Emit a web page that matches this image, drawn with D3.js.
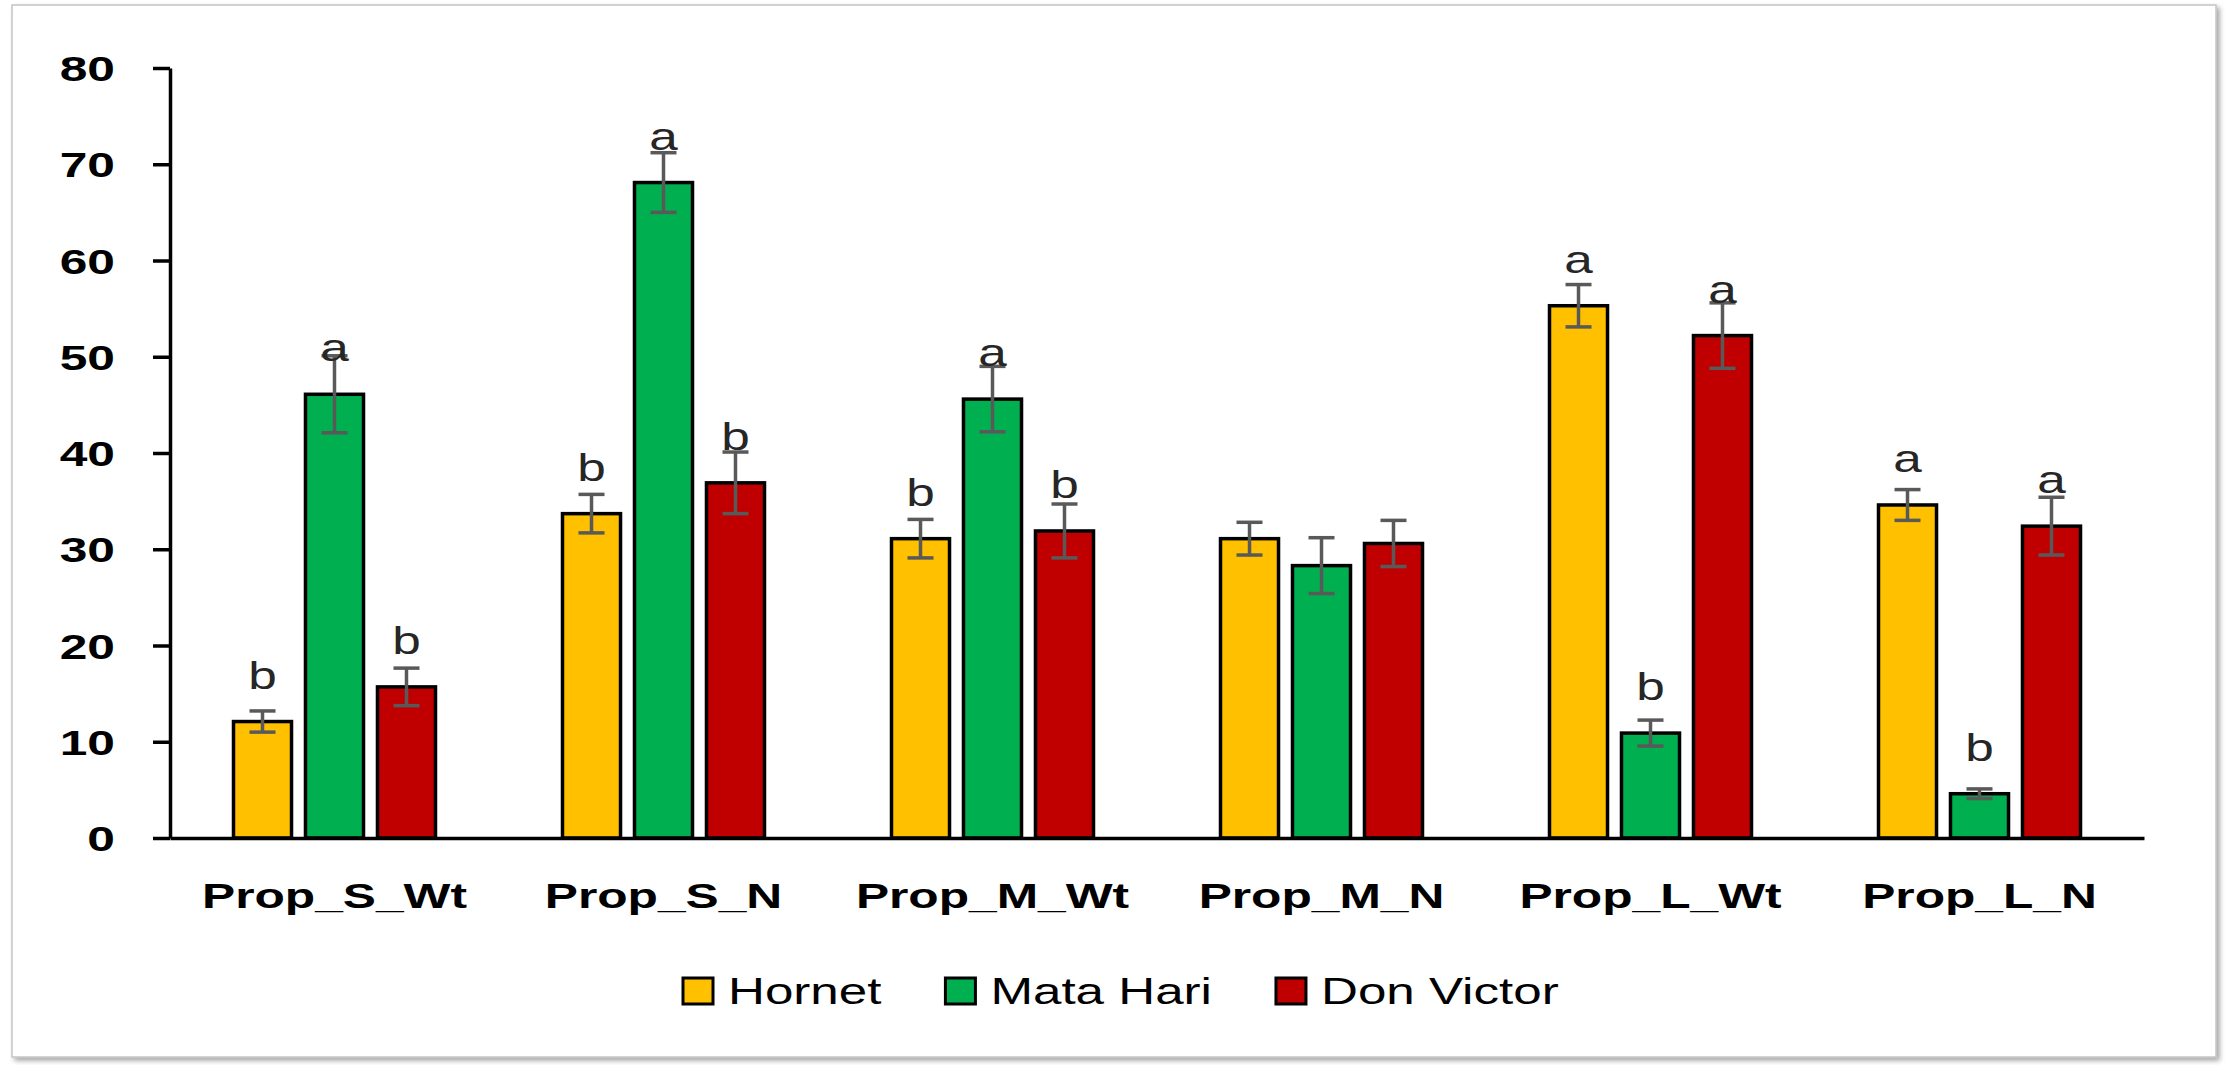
<!DOCTYPE html>
<html>
<head>
<meta charset="utf-8">
<script src="https://cdn.jsdelivr.net/npm/d3@7/dist/d3.min.js"></script>
<style>
	body { margin: 0; background: #fff; }
	text { font-family: 'Liberation Sans', Arial, sans-serif; }
</style>
</head>
<body>
<svg id="chart-svg" width="2226" height="1065"></svg>
<script>
// data
const CATEGORIES = ['Prop_S_Wt', 'Prop_S_N', 'Prop_M_Wt', 'Prop_M_N', 'Prop_L_Wt', 'Prop_L_N'];
const SERIES = ['Hornet', 'Mata Hari', 'Don Victor'];
const HORNET = [12.1, 33.7, 31.1, 31.1, 55.3, 34.6];
const HORNET_ERR = [1.1, 2.0, 2.0, 1.7, 2.2, 1.6];
const MATA_HARI = [46.1, 68.1, 45.6, 28.3, 10.9, 4.6];
const MATA_HARI_ERR = [4.0, 3.1, 3.4, 2.9, 1.35, 0.5];
const DON_VICTOR = [15.7, 36.9, 31.9, 30.6, 52.2, 32.4];
const DON_VICTOR_ERR = [1.95, 3.2, 2.8, 2.4, 3.4, 3.0];
const HORNET_LETTERS = ['b', 'b', 'b', '', 'a', 'a'];
const MATA_HARI_LETTERS = ['a', 'a', 'a', '', 'b', 'b'];
const DON_VICTOR_LETTERS = ['b', 'b', 'b', '', 'a', 'a'];
const Y_TICKS = [0, 10, 20, 30, 40, 50, 60, 70, 80];

const COLORS = ['#FFC000', '#00B050', '#C00000'];
const SX = 1.42; // the picture is stretched sideways, text too
const PLOT = { left: 170, right: 2144, top: 68, bottom: 838 };

const svg = d3.select('#chart-svg');

// rows for each bar
const values = [HORNET, MATA_HARI, DON_VICTOR];
const errs = [HORNET_ERR, MATA_HARI_ERR, DON_VICTOR_ERR];
const letters = [HORNET_LETTERS, MATA_HARI_LETTERS, DON_VICTOR_LETTERS];
let rows = [];
CATEGORIES.forEach((c, i) => {
	SERIES.forEach((s, j) => {
		rows.push({ cat: c, series: s, idx: j, value: values[j][i], err: errs[j][i], letter: letters[j][i] });
	});
});

// frame with soft shadow
const defs = svg.append('defs');
const shadow = defs.append('filter').attr('id', 'shadow').attr('x', '-2%').attr('y', '-2%').attr('width', '104%').attr('height', '104%');
shadow.append('feDropShadow').attr('dx', 3).attr('dy', 3).attr('stdDeviation', 2.5).attr('flood-color', '#000').attr('flood-opacity', 0.35);
svg.append('rect')
	.attr('x', 12).attr('y', 5).attr('width', 2204).attr('height', 1052)
	.attr('fill', '#fff').attr('stroke', '#c4c4c4').attr('stroke-width', 1.5)
	.attr('filter', 'url(#shadow)');

// scales
const xScale = d3.scaleBand().domain(CATEGORIES).range([PLOT.left, PLOT.right]).paddingInner(0.386).paddingOuter(0.193);
const xInner = d3.scaleBand().domain(SERIES).range([0, xScale.bandwidth()]).paddingInner(0.194).paddingOuter(0);
const yScale = d3.scaleLinear().domain([0, 80]).range([PLOT.bottom, PLOT.top]);

// bars
svg.append('g')
	.selectAll('rect')
	.data(rows)
	.enter()
	.append('rect')
	.attr('x', (d) => xScale(d.cat) + xInner(d.series))
	.attr('y', (d) => yScale(d.value))
	.attr('width', xInner.bandwidth())
	.attr('height', (d) => yScale(0) - yScale(d.value))
	.attr('fill', (d) => COLORS[d.idx])
	.attr('stroke', '#000')
	.attr('stroke-width', 3.5);

// error bars
const capW = 26;
const errG = svg.append('g').attr('stroke', '#595959').attr('stroke-width', 3.5).attr('fill', 'none');
rows.forEach((d) => {
	const cx = xScale(d.cat) + xInner(d.series) + xInner.bandwidth() / 2;
	const y1 = yScale(d.value + d.err);
	const y2 = yScale(d.value - d.err);
	errG.append('line').attr('x1', cx).attr('x2', cx).attr('y1', y1).attr('y2', y2);
	errG.append('line').attr('x1', cx - capW / 2).attr('x2', cx + capW / 2).attr('y1', y1).attr('y2', y1);
	errG.append('line').attr('x1', cx - capW / 2).attr('x2', cx + capW / 2).attr('y1', y2).attr('y2', y2);
});

// letters, a fixed distance above each bar top
svg.append('g')
	.selectAll('text')
	.data(rows.filter((d) => d.letter != ''))
	.enter()
	.append('text')
	.attr('transform', (d) => {
		const cx = xScale(d.cat) + xInner(d.series) + xInner.bandwidth() / 2;
		return 'translate(' + cx + ',' + (yScale(d.value) - 33) + ') scale(1.35,1)';
	})
	.attr('text-anchor', 'middle')
	.attr('font-size', 38)
	.attr('fill', '#262626')
	.text((d) => d.letter);

// y axis
const yAxis = d3.axisLeft(yScale).tickValues(Y_TICKS).tickSize(17).tickSizeOuter(0).tickFormat(d3.format('d'));
const yG = svg.append('g').attr('transform', 'translate(' + PLOT.left + ',0)').call(yAxis);
yG.select('.domain').attr('stroke', '#000').attr('stroke-width', 3.5);
yG.selectAll('.tick line').attr('stroke', '#000').attr('stroke-width', 3.5);
yG.selectAll('.tick text')
	.attr('x', -55 / SX)
	.attr('dy', '0.36em')
	.attr('transform', 'scale(' + SX + ',1)')
	.attr('font-size', 35)
	.attr('font-weight', 'bold')
	.attr('fill', '#000')
	.style('font-family', "'Liberation Sans', Arial, sans-serif");

// x axis
const xAxis = d3.axisBottom(xScale).tickSize(0).tickSizeOuter(0);
const xG = svg.append('g').attr('transform', 'translate(0,' + PLOT.bottom + ')').call(xAxis);
xG.select('.domain').attr('stroke', '#000').attr('stroke-width', 3.5);
xG.selectAll('.tick text')
	.attr('y', 70)
	.attr('dy', 0)
	.attr('transform', 'scale(' + SX + ',1)')
	.attr('font-size', 35)
	.attr('font-weight', 'bold')
	.attr('fill', '#000')
	.style('font-family', "'Liberation Sans', Arial, sans-serif");

// legend
const legendG = svg.append('g').attr('id', 'legend');
let lx = 683;
SERIES.forEach((s, i) => {
	legendG.append('rect')
		.attr('x', lx).attr('y', 978).attr('width', 30).attr('height', 26)
		.attr('fill', COLORS[i]).attr('stroke', '#000').attr('stroke-width', 3);
	const t = legendG.append('text')
		.attr('transform', 'translate(' + (lx + 45) + ',1004) scale(' + SX + ',1)')
		.attr('font-size', 36)
		.attr('fill', '#000')
		.text(s);
	lx += 45 + t.node().getComputedTextLength() * SX + 64;
});
</script>
</body>
</html>
